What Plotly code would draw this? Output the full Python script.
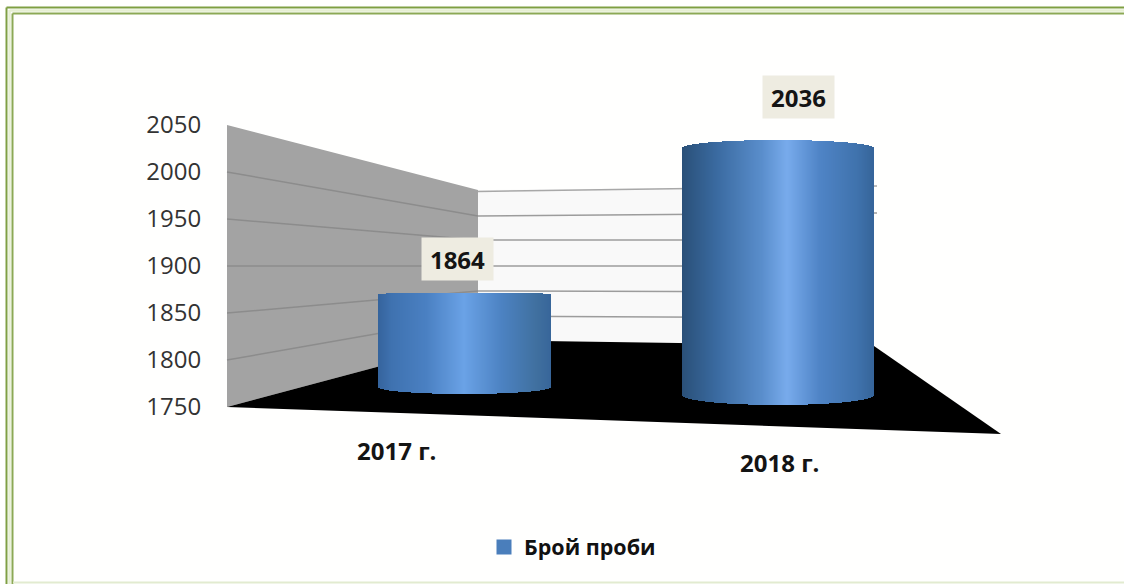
import plotly.graph_objects as go

# ---- data ----
categories = ["2017 г.", "2018 г."]
values = [1864, 2036]
value_labels = ["1864", "2036"]
y_ticks = [1750, 1800, 1850, 1900, 1950, 2000, 2050]
series_name = "Брой проби"

W, H = 1124, 584
BASE = 1750

def py(y):
    return 1 - y / H

def px(x):
    return x / W

def rng(v_low, px_low, v_high, px_high):
    """axis range over the full figure height so that v_low/v_high land on the given pixels"""
    s = (px_low - px_high) / (v_high - v_low)
    return [v_low - (H - px_low) / s, v_high + px_high / s]

# horizontal scale: category 0 centre at 465 px, category 1 centre at 778.5 px
X_UNIT = 778.5 - 465
x_range = [(0 - 465) / X_UNIT, (W - 465) / X_UNIT]

def hex2rgb(h):
    return tuple(int(h[i:i + 2], 16) for i in (1, 3, 5))

def grad(stops, t):
    for (a, ca), (b, cb) in zip(stops, stops[1:]):
        if a <= t <= b:
            f = (t - a) / (b - a)
            ra, rb = hex2rgb(ca), hex2rgb(cb)
            return "rgb(%d,%d,%d)" % tuple(round(p + (q - p) * f) for p, q in zip(ra, rb))
    return stops[-1][1]

stops_1 = [(0, "#35639c"), (.08, "#3f72b0"), (.28, "#4a80c2"), (.5, "#6aa2e6"), (.72, "#4c82c2"), (.92, "#40709f"), (1, "#38669a")]
stops_2 = [(0, "#2a5078"), (.18, "#3a6aa0"), (.42, "#5a8ecc"), (.55, "#78abec"), (.72, "#4f84c6"), (.92, "#3f72ac"), (1, "#36659a")]

# bar geometry (pixels): width, bottom corners, top corners, arc heights
bars = [
    dict(width=172, px_base=387, px_top=294, arc_top=1.2, arc_bot=7, stops=stops_1, axis="y2"),
    dict(width=191, px_base=395, px_top=148, arc_top=8, arc_bot=10, stops=stops_2, axis="y3"),
]

fig = go.Figure()
for i, (cat, val, b) in enumerate(zip(categories, values, bars)):
    scale = (b["px_base"] - b["px_top"]) / (val - BASE)
    n = b["width"]
    step = 1 / X_UNIT
    xs, bases, heights, colors, widths = [], [], [], [], []
    for k in range(n):
        t = (k + .5) / n
        u = 2 * t - 1
        curve = (1 - u * u) ** .5
        lo = BASE - b["arc_bot"] * curve / scale
        hi = val + b["arc_top"] * curve / scale
        xs.append(i + (t - .5) * n * step)
        bases.append(lo)
        heights.append(hi - lo)
        colors.append(grad(b["stops"], t))
        widths.append(step * 1.6)
    fig.add_trace(go.Bar(x=xs, y=heights, base=bases, width=widths, yaxis=b["axis"],
                         marker=dict(color=colors, line=dict(width=0)),
                         showlegend=False, hoverinfo="skip"))

# legend entry
fig.add_trace(go.Scatter(x=[None], y=[None], mode="markers", name=series_name,
                         marker=dict(symbol="square", size=15, color="#4a7ebb")))

shapes = []

def poly(points, fill):
    path = "M" + " L".join(f"{px(x):.5f},{py(y):.5f}" for x, y in points) + " Z"
    shapes.append(dict(type="path", path=path, xref="paper", yref="paper", fillcolor=fill,
                       line=dict(width=0), layer="below"))

def seg(x0, y0, x1, y1, color, w=1.5):
    shapes.append(dict(type="line", xref="paper", yref="paper", x0=px(x0), y0=py(y0), x1=px(x1), y1=py(y1),
                       line=dict(color=color, width=w), layer="below"))

# walls and floor
poly([(227, 125), (478, 190), (478, 340), (227, 407)], "#a3a3a3")
poly([(478, 190), (874, 186), (874, 346), (478, 340)], "#f9f9f9")
poly([(227, 407), (478, 340), (874, 346), (1001, 434)], "#000000")

# wall grid lines, one per tick above the base
wall_left = [172, 219, 266, 313, 360]
wall_corner = [216, 240, 266, 291, 316]
wall_right = [213, 240, 266, 292, 318]
wall_end = [877, 874, 874, 874, 874]
for a, c, r, e in zip(wall_left, wall_corner, wall_right, wall_end):
    seg(227, a, 478, c, "#8c8c8c")
    seg(478, c, e, r, "#9c9c9c")
seg(478, 191.5, 877, 186, "#a8a8a8")

# frame
seg(6.5, 7.5, 6.5, H, "#7f9f42", 2)
seg(6.5, 7.5, W, 7.5, "#7f9f42", 2)
seg(12.5, 13.5, 12.5, H, "#8ca955", 2)
seg(12.5, 13.5, W, 13.5, "#8ca955", 2)
seg(9.5, 10, 9.5, H, "#e6efd2", 2.5)
seg(9.5, 10.5, W, 10.5, "#e6efd2", 2.5)
seg(13, 582.5, W, 582.5, "#e2ebd0", 2)

annotations = []
LABEL_FONT = dict(family="Open Sans", size=24, color="#141414")
for i, (txt, val, b, dx, dy) in enumerate(zip(value_labels, values, bars, [-7.5, 20], [35, 51.5])):
    annotations.append(dict(x=i, y=val, xref="x", yref=b["axis"], text=f"<b>{txt}</b>", showarrow=False,
                            xshift=dx, yshift=dy, width=71, height=42, bgcolor="#eeece1",
                            borderpad=0, font=LABEL_FONT, xanchor="center", yanchor="middle", align="center", valign="middle"))
for i, (cat, dx, yp) in enumerate(zip(categories, [396 - 465, 779 - 778.5], [450, 462])):
    annotations.append(dict(x=i, y=py(yp), xref="x", yref="paper", text=f"<b>{cat}</b>", showarrow=False,
                            xshift=dx, font=LABEL_FONT, xanchor="center", yanchor="middle"))

fig.update_layout(
    width=W, height=H, margin=dict(l=0, r=0, t=0, b=0),
    paper_bgcolor="#fffffe", plot_bgcolor="rgba(0,0,0,0)",
    barmode="overlay", bargap=0,
    shapes=shapes, annotations=annotations,
    showlegend=True,
    legend=dict(x=px(484), y=py(547), xanchor="left", yanchor="middle", orientation="h",
                bgcolor="rgba(0,0,0,0)", font=dict(family="Open Sans", size=21.5, color="#111111", weight="bold"),
                itemsizing="trace"),
    xaxis=dict(domain=[0, 1], range=x_range, visible=False, fixedrange=True),
    yaxis=dict(domain=[0, 1], range=rng(1750, 407, 2050, 125), tickmode="array", tickvals=y_ticks,
               ticktext=[str(v) for v in y_ticks], anchor="free", position=227 / W, side="left",
               showgrid=False, zeroline=False, showline=False, ticks="outside", ticklen=21,
               tickcolor="rgba(0,0,0,0)", tickfont=dict(family="Open Sans", size=24, color="#333333"),
               fixedrange=True),
    yaxis2=dict(overlaying="y", range=rng(BASE, 387, values[0], 294), visible=False, fixedrange=True),
    yaxis3=dict(overlaying="y", range=rng(BASE, 395, values[1], 148), visible=False, fixedrange=True),
)

fig.write_html("out.html", config=dict(displayModeBar=False), post_script="document.body.style.margin='0';")
